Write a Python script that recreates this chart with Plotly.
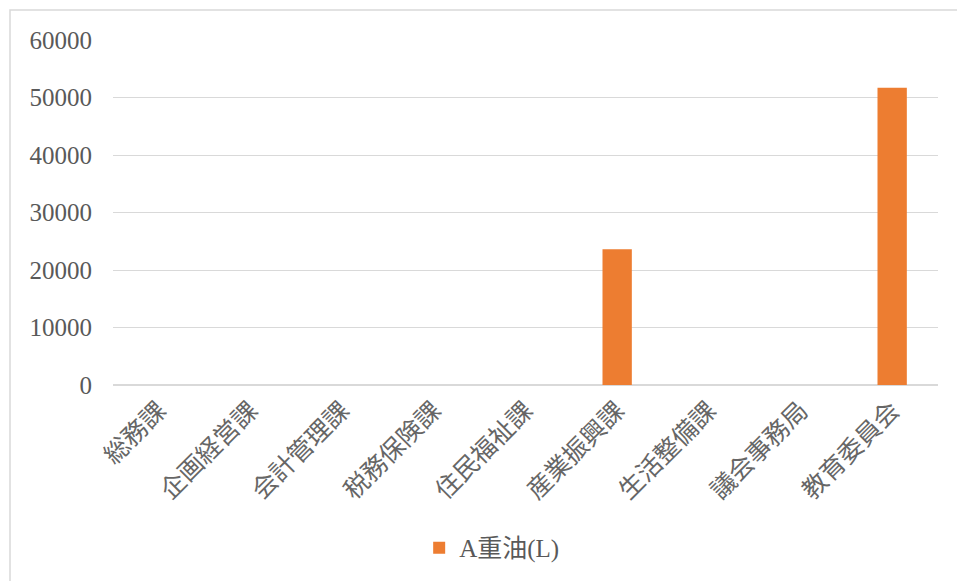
import plotly.graph_objects as go

departments = ["総務課", "企画経営課", "会計管理課", "税務保険課", "住民福祉課",
               "産業振興課", "生活整備課", "議会事務局", "教育委員会"]
heavy_oil_a = [0, 0, 0, 0, 0, 23600, 0, 0, 51700]
series_name = "A重油(L)"
y_ticks = [0, 10000, 20000, 30000, 40000, 50000, 60000]

FONT = "Liberation Serif, Noto Sans CJK JP, serif"

fig = go.Figure()
fig.add_trace(go.Bar(
    x=departments,
    y=heavy_oil_a,
    name=series_name,
    marker=dict(color="#ED7D31", line=dict(width=0)),
    showlegend=True,
))

W, H = 957, 581
ml, mr, mt, mb = 113, 19, 40, 195
pw, ph = W - ml - mr, H - mt - mb

# outer chart frame
fig.add_shape(
    type="rect", xref="paper", yref="paper",
    x0=(10 - ml) / pw, x1=(W + 5 - ml) / pw,
    y0=-(H + 5 - mt - ph) / ph, y1=(H - 10 - mb) / ph,
    line=dict(color="#d9d9d9", width=1.5), fillcolor="rgba(0,0,0,0)",
    layer="below",
)

fig.update_layout(
    width=W, height=H,
    margin=dict(l=ml, r=mr, t=mt, b=mb, pad=0),
    paper_bgcolor="white", plot_bgcolor="white",
    font=dict(family=FONT, color="#595959"),
    bargap=0.68,
    xaxis=dict(
        tickangle=-45,
        tickfont=dict(size=25, family=FONT, color="#666666"),
        showgrid=False, showline=True, linecolor="#d9d9d9", linewidth=1,
        ticks="", fixedrange=True,
    ),
    yaxis=dict(
        range=[0, 60000], tickvals=y_ticks,
        ticktext=[str(v) for v in y_ticks],
        tickfont=dict(size=25, family=FONT, color="#595959"),
        showgrid=True, gridcolor="#d9d9d9", gridwidth=1,
        zeroline=True, zerolinecolor="#d9d9d9",
        showline=False, ticks="", ticklabelstandoff=20,
    ),
    legend=dict(
        orientation="h", x=0.459, xanchor="center", y=-0.468, yanchor="middle",
        font=dict(size=25, family=FONT, color="#595959"),
        itemwidth=30,
    ),
)

fig.write_html("out.html")
